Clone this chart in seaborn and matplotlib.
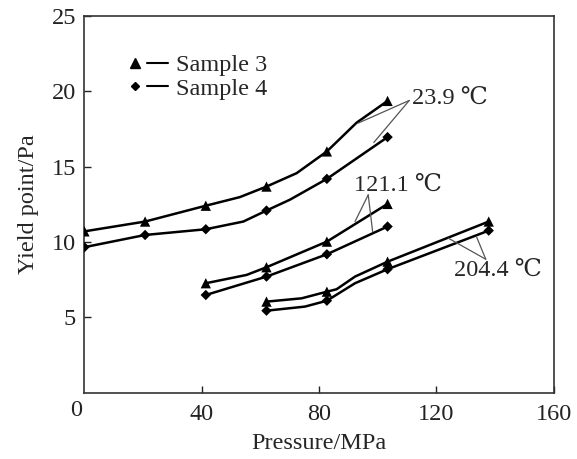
#!/usr/bin/env python3
"""
Yield point vs pressure for two samples at three temperatures
"""

import pandas as pd
import matplotlib.pyplot as plt
import seaborn as sns
from matplotlib.lines import Line2D
from matplotlib.legend_handler import HandlerTuple

# measured points (MPa)
pressure_239 = [0, 20.7, 41.4, 62.1, 82.7, 103.4]
pressure_1211 = [41.4, 62.1, 82.7, 103.4]
pressure_2044 = [62.1, 82.7, 103.4, 137.9]

s3_239 = [10.7, 11.35, 12.4, 13.67, 16.0, 19.35]
s4_239 = [9.65, 10.46, 10.84, 12.08, 14.18, 16.95]
s3_1211 = [7.26, 8.32, 10.02, 12.52]
s4_1211 = [6.48, 7.7, 9.18, 11.02]
s3_2044 = [6.04, 6.7, 8.69, 11.35]
s4_2044 = [5.44, 6.1, 8.19, 10.75]

# extra bends of the drawn curves (no marker)
bends_s3_239 = [(53.0, 12.97), (72.4, 14.56), (92.8, 17.9)]
bends_s4_239 = [(54.2, 11.35), (70.1, 12.8)]
bends_s3_1211 = [(55.3, 7.81)]
bends_s4_1211 = []
bends_s3_2044 = [(74.1, 6.26), (86.0, 6.86), (92.3, 7.7)]
bends_s4_2044 = [(75.2, 5.71), (92.3, 7.26)]

# temperature labels: text position, apex of leader, leader ends
labels = ["23.9 \u2103", "121.1 \u2103", "204.4 \u2103"]
label_pos = [(111.6, 19.55), (92.0, 13.75), (126.0, 8.1)]
leader_apex = [(110.8, 19.38), (96.8, 13.12), (136.9, 8.85)]
leader_ends = [[(93.4, 17.88), (98.7, 16.59)],
               [(92.3, 11.35), (98.3, 10.68)],
               [(124.1, 10.25), (133.8, 10.31)]]

FS = 17.5

sns.set_style("ticks")
plt.rcParams['font.family'] = ['Liberation Serif', 'DejaVu Serif']

series = [
    ("Sample 3", "23.9", pressure_239, s3_239, bends_s3_239),
    ("Sample 4", "23.9", pressure_239, s4_239, bends_s4_239),
    ("Sample 3", "121.1", pressure_1211, s3_1211, bends_s3_1211),
    ("Sample 4", "121.1", pressure_1211, s4_1211, bends_s4_1211),
    ("Sample 3", "204.4", pressure_2044, s3_2044, bends_s3_2044),
    ("Sample 4", "204.4", pressure_2044, s4_2044, bends_s4_2044),
]

points = []
curves = []
for sample, temp, xs, ys, bends in series:
    key = f"{sample} {temp}"
    for x, y in zip(xs, ys):
        points.append({"pressure": x, "yield": y, "sample": sample})
        curves.append({"pressure": x, "yield": y, "curve": key})
    for x, y in bends:
        curves.append({"pressure": x, "yield": y, "curve": key})

points = pd.DataFrame(points)
curves = pd.DataFrame(curves).sort_values(["curve", "pressure"])

fig = plt.figure(figsize=(5.77, 4.59), dpi=100)
ax = fig.add_axes([0.1463, 0.1444, 0.8130, 0.8214])

sns.lineplot(data=curves, x="pressure", y="yield", units="curve", estimator=None,
             sort=False, color="black", linewidth=1.8, ax=ax, legend=False)
sns.scatterplot(data=points, x="pressure", y="yield", style="sample",
                markers={"Sample 3": "^", "Sample 4": "D"},
                size="sample", sizes={"Sample 3": 55, "Sample 4": 28},
                color="black", edgecolor="black", linewidth=0, ax=ax, legend=False, zorder=3)

for text, pos, apex, ends in zip(labels, label_pos, leader_apex, leader_ends):
    ax.text(pos[0], pos[1], text, fontsize=FS, ha="left", va="center")
    for end in ends:
        ax.annotate("", xy=end, xytext=apex,
                    arrowprops=dict(arrowstyle="-", lw=0.9, color="#555555",
                                    shrinkA=0, shrinkB=0))

# legend: marker followed by a short line
tri = Line2D([], [], marker="^", color="black", linestyle="none", markersize=7)
dia = Line2D([], [], marker="D", color="black", linestyle="none", markersize=4.5)
seg = Line2D([], [], color="black", linewidth=1.5)
ax.legend([(tri, seg), (dia, seg)], ["Sample 3", "Sample 4"],
          handler_map={tuple: HandlerTuple(ndivide=None, pad=0.05)},
          handlelength=1.8, handletextpad=0.35, labelspacing=0.05,
          fontsize=FS, frameon=False, loc="upper left",
          bbox_to_anchor=(0.064, 0.923), borderaxespad=0)

ax.set_xlim(0, 160)
ax.set_ylim(0, 25)
ax.set_xticks([40, 80, 120, 160])
ax.set_yticks([5, 10, 15, 20, 25])
ax.tick_params(direction="in", length=5, width=1.0, labelsize=FS, colors="#222222")
ax.tick_params(axis="x", pad=8)
ax.tick_params(axis="y", pad=6)
ax.annotate("0", xy=(0, 0), xytext=(-2, -5), textcoords="offset points",
            ha="right", va="top", fontsize=FS, color="#222222")

for side in ["top", "right", "bottom", "left"]:
    ax.spines[side].set_visible(True)
    ax.spines[side].set_color("#333333")
    ax.spines[side].set_linewidth(1.2)

ax.set_xlabel("Pressure/MPa", fontsize=FS, labelpad=6)
ax.set_ylabel("Yield point/Pa", fontsize=FS, labelpad=9)

plt.savefig("out.png", dpi=100)
plt.close()
